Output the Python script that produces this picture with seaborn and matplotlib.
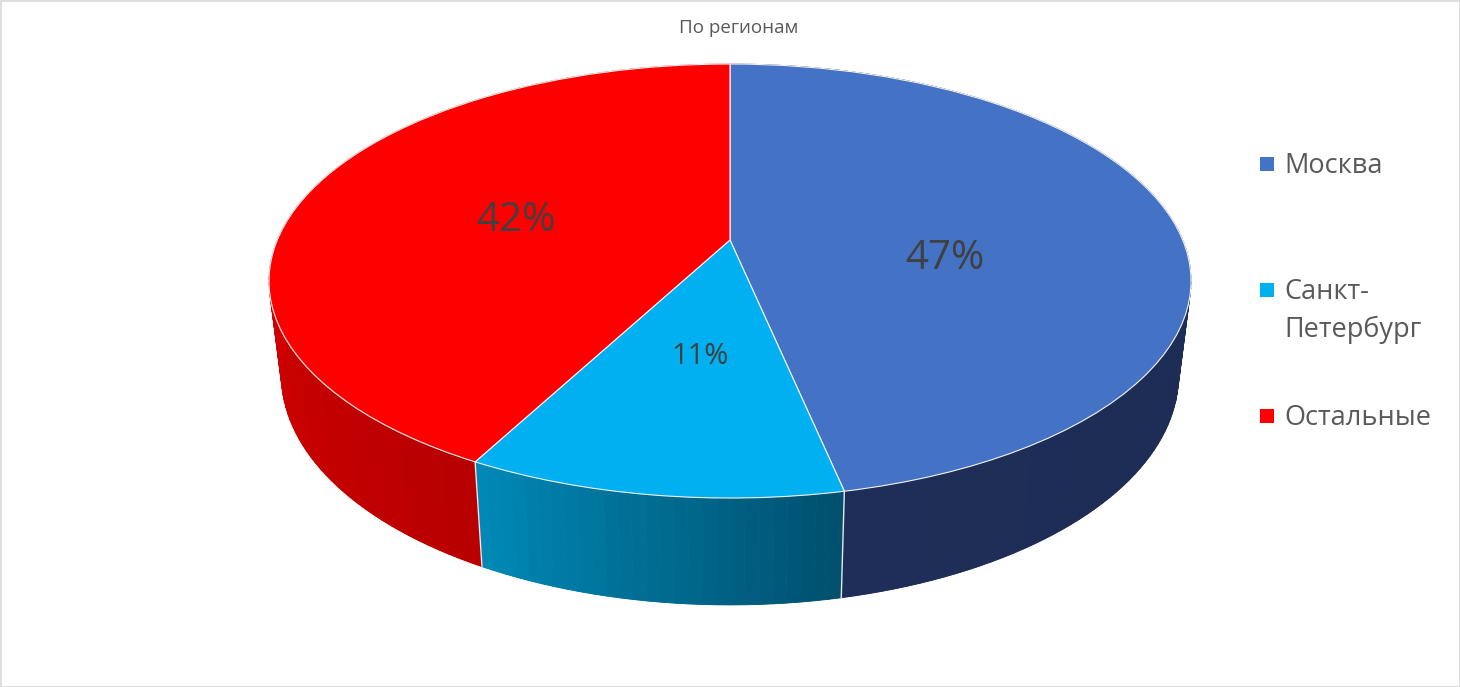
import numpy as np
import matplotlib
matplotlib.use('Agg')
import matplotlib.pyplot as plt
from matplotlib.transforms import Transform
import seaborn as sns

# data
categories = ['Москва', 'Санкт-\nПетербург', 'Остальные']
values = [46.7, 11.07, 42.23]
top_colors = ['#4472C4', '#00B0F0', '#FF0000']
side_start = ['#1A2A4E', '#00506E', '#B80000']
side_end = ['#1E2E58', '#0088B6', '#FF0000']
title = 'По регионам'

# layout in pixels
label_xy = [(945, 259), (700, 356), (516, 221)]
label_size = [29, 21, 29]
legend_y = [164, 290, 416]

sns.set_style('white')
plt.rcParams['font.family'] = ['Open Sans', 'DejaVu Sans']

CX = 730
TILT = 0.189


class Perspective(Transform):
    # pie plane -> picture pixels, the far side of the pie gets smaller
    input_dims = 2
    output_dims = 2
    is_separable = False
    has_inverse = False

    def __init__(self, a, c, b):
        super().__init__()
        self.a, self.c, self.b = a, c, b

    def transform_non_affine(self, values):
        xy = np.asarray(values, dtype=float)
        w = 1 + TILT * xy[:, 1]
        return np.column_stack([CX + self.a * xy[:, 0] / w,
                                (self.c - self.b * xy[:, 1]) / w])


top_plane = Perspective(452.7, 240, 163.9)
bottom_plane = Perspective(440.5, 332, 158.6)

fig, ax = plt.subplots(figsize=(14.6, 6.87), dpi=100)
fig.subplots_adjust(0, 0, 1, 1)

wedges, _ = ax.pie(values, colors=top_colors, startangle=90, counterclock=False,
                   wedgeprops={'edgecolor': '#F4F4F4', 'linewidth': 0.8, 'zorder': 5})
ax.set_aspect('auto')
ax.set_xlim(0, 1460)
ax.set_ylim(687, 0)
for w in wedges:
    w.set_transform(top_plane + ax.transData)

# side of the disc, thin strips so the shade can run across each slice
edges = np.cumsum([0] + values) / sum(values) * 360
for i in range(len(values)):
    th = np.radians(np.linspace(edges[i], edges[i + 1], int((edges[i + 1] - edges[i]) / 1.5) + 2))
    pts = np.column_stack([np.sin(th), np.cos(th)])
    t = top_plane.transform_non_affine(pts)
    b = bottom_plane.transform_non_affine(pts)
    shades = sns.blend_palette([side_start[i], side_end[i]], len(th) - 1)
    for j in range(len(th) - 1):
        quad = np.vstack([t[j], t[j + 1], b[j + 1], b[j]])
        ax.fill(quad[:, 0], quad[:, 1], color=shades[j], lw=0.6, zorder=2)
    # lower rim fill to the silhouette
    ax.fill(b[:, 0], b[:, 1], color=shades[len(shades) // 2], lw=0, zorder=1)

# white seams between slices on the side
for e in edges[1:-1]:
    p = np.array([[np.sin(np.radians(e)), np.cos(np.radians(e))]])
    t = top_plane.transform_non_affine(p)[0]
    b = bottom_plane.transform_non_affine(p)[0]
    ax.plot([t[0], b[0]], [t[1], b[1]], color='#E8E8E8', lw=1.0, zorder=3)

# percent labels
for v, (x, y), s in zip(values, label_xy, label_size):
    ax.text(x, y, f'{v:.0f}%', fontsize=s, color='#404040', ha='center', va='center', zorder=6)

ax.text(739, 28, title, fontsize=13.5, color='#595959', ha='center', va='center')

# legend
for c, y, name in zip(top_colors, legend_y, categories):
    ax.scatter([1267], [y], marker='s', s=100, color=c, linewidths=0)
    ax.text(1284, y + 2, name.split('\n')[0], fontsize=19.5, color='#595959', ha='left', va='center')
    if '\n' in name:
        ax.text(1284, y + 40, name.split('\n')[1], fontsize=19.5, color='#595959', ha='left', va='center')

# thin frame of the picture
ax.set_frame_on(True)
for sp in ax.spines.values():
    sp.set_visible(True)
    sp.set_color('#DDDDDD')
    sp.set_linewidth(2)

fig.savefig('out.png', dpi=100)
